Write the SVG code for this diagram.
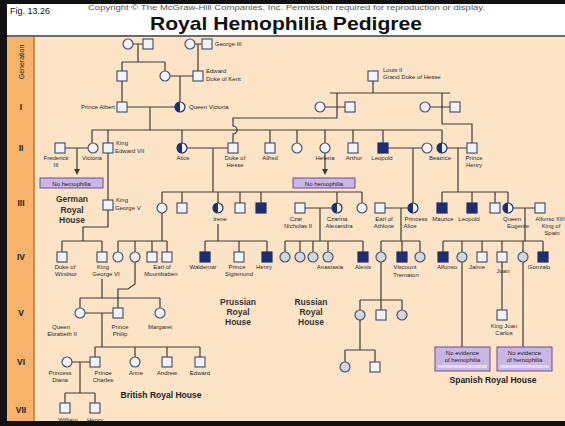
<svg xmlns="http://www.w3.org/2000/svg" xmlns:xlink="http://www.w3.org/1999/xlink" width="565" height="426" viewBox="0 0 565 426">
<style>
.ln{fill:none;stroke:#3b3b3b;stroke-width:1.2}
.o{fill:#f3f3f6;stroke:#4a5573;stroke-width:1.2}
.q{fill:#d3d7e0;stroke:#4a5573;stroke-width:1.2}
.a{fill:#1d2f6e;stroke:#1d2f6e;stroke-width:1.2}
.t{font-family:"Liberation Sans",Arial,sans-serif;font-size:6px;fill:#2a2a2a}
.c{text-anchor:middle}
.h{font-family:"Liberation Sans",Arial,sans-serif;font-size:8.5px;font-weight:bold;fill:#333;text-anchor:middle}
.g{font-family:"Liberation Sans",Arial,sans-serif;font-size:8.5px;font-weight:bold;fill:#222;text-anchor:middle}
.box{fill:#c9b6e4;stroke:#6b4f90;stroke-width:1}
.bt{font-family:"Liberation Sans",Arial,sans-serif;font-size:6px;fill:#1a1a1a;text-anchor:middle}
</style>
<defs>
<rect id="S" class="o" x="-5" y="-5" width="10" height="10"/>
<rect id="A" class="a" x="-5" y="-5" width="10" height="10"/>
<circle id="C" class="o" r="5"/>
<circle id="Q" class="q" r="5"/>
<g id="H"><circle r="5" fill="#f3f3f6"/><path d="M0,-5 A5,5 0 0 0 0,5 Z" fill="#1d2f6e"/><circle r="5" fill="none" stroke="#1d2f6e" stroke-width="1.2"/></g>
<marker id="ar" markerWidth="6" markerHeight="6" refX="3" refY="3" orient="auto" markerUnits="userSpaceOnUse"><path d="M0,0 L6,3 L0,6 Z" fill="#3b3b3b"/></marker>
</defs>
<rect x="0" y="0" width="565" height="426" fill="#fde4c6"/>
<rect x="5" y="0" width="560" height="36" fill="#ffffff"/>
<rect x="5" y="35" width="560" height="2" fill="#6a6a6a"/>
<rect x="7" y="37" width="27" height="389" fill="#f6b36c"/>
<rect x="33" y="37" width="2" height="389" fill="#c98a4c"/>
<rect x="0" y="0" width="565" height="4" fill="#111"/>
<rect x="0" y="0" width="7" height="426" fill="#111"/>
<text x="10" y="14" font-family="Liberation Sans,Arial,sans-serif" font-size="9" fill="#111">Fig. 13.26</text>
<text x="88" y="10" font-family="Liberation Sans,Arial,sans-serif" font-size="6.5" fill="#555" textLength="397" lengthAdjust="spacingAndGlyphs">Copyright © The McGraw-Hill Companies, Inc. Permission required for reproduction or display.</text>
<text x="150" y="30" font-family="Liberation Sans,Arial,sans-serif" font-size="19" font-weight="bold" fill="#111" textLength="272" lengthAdjust="spacingAndGlyphs">Royal Hemophilia Pedigree</text>
<g id="generations" font-family="Liberation Sans,Arial,sans-serif" font-weight="bold" fill="#222" text-anchor="middle">
<text transform="translate(24,62) rotate(-90)" font-size="7" font-weight="normal">Generation</text>
<text x="21" y="110" font-size="8.5">I</text>
<text x="21" y="151" font-size="8.5">II</text>
<text x="21" y="206" font-size="8.5">III</text>
<text x="21" y="260" font-size="8.5">IV</text>
<text x="21" y="316" font-size="8.5">V</text>
<text x="21" y="365" font-size="8.5">VI</text>
<text x="21" y="413" font-size="8.5">VII</text>
</g>
<g id="connectors" class="ln">
<path d="M133,44 H143 M138,44 V62 M122,62 H165 M122,62 V71 M165,62 V71"/>
<path d="M195,44 H202 M198,44 V71"/>
<path d="M170,76 H193 M180,76 V102 M122,81 V102"/>
<path d="M127,107 H175 M150,107 V130"/>
<path d="M92,130 H442 M92,130 V143 M108,130 V143 M182,130 V143 M270,130 V143 M297,130 V143 M325,130 V143 M353,130 V143 M383,130 V143 M442,130 V143"/>
<path d="M373,81 V93 M330,93 H450 M325,107 H345 M430,107 H450"/>
<path d="M337,93 V118 H233 V126 A4,4 0 0 1 233,134 V143"/>
<path d="M442,93 V124 H472 V143"/>
<path d="M65,148 H88 M77,148 V172" marker-end="url(#ar)"/>
<path d="M325,153 V172" marker-end="url(#ar)"/>
<path d="M108,153 V200"/>
<path d="M187,148 H228 M213,148 V192 M162,192 H362 M162,192 V203 M182,192 V203 M218,192 V203 M240,192 V203 M261,192 V203 M337,192 V203 M362,192 V203"/>
<path d="M388,148 H422 M413,148 V203"/>
<path d="M447,148 H467 M458,148 V192 M442,192 H508 M442,192 V203 M472,192 V203 M495,192 V203 M508,192 V203"/>
<path d="M108,210 V227 H83 V241 M62,241 H102 M62,241 V252 M102,241 V252"/>
<path d="M162,213 V241 M118,241 H167 M118,241 V252 M135,241 V252 M152,241 V252 M167,241 V252"/>
<path d="M218,224 V241 M205,241 H267 M205,241 V252 M239,241 V252 M267,241 V252"/>
<path d="M305,208 H332 M320,208 V241 M285,241 H363 M285,241 V252 M300,241 V252 M313,241 V252 M328,241 V252 M363,241 V252"/>
<path d="M385,208 H408 M401,208 V241 M381,241 H420 M381,241 V252 M402,241 V252 M420,241 V252"/>
<path d="M513,208 H535 M525,208 V241 M443,241 H543 M443,241 V252 M462,241 V252 M482,241 V252 M502,241 V252 M523,241 V252 M543,241 V252"/>
<path d="M462,262 V347 M523,262 V347 M502,262 V310"/>
<path d="M381,262 V300 M360,300 H402 M360,300 V310 M381,300 V310 M402,300 V310"/>
<path d="M360,320 V350 M345,350 H375 M345,350 V362 M375,350 V362"/>
<path d="M102,279 V298 M80,298 H160 M80,298 V308 M160,298 V308"/>
<path d="M135,262 V284 L128,289 H118 V308"/>
<path d="M85,313 H113 M102,313 V347 M95,347 H200 M95,347 V357 M135,347 V357 M167,347 V357 M200,347 V357"/>
<path d="M72,362 H90 M80,362 V393 M65,393 H95 M65,393 V403 M95,393 V403"/>
</g>
<g id="boxes">
<g id="box-prussia"><rect class="box" x="40" y="178" width="63" height="10"/><text class="bt" x="71.5" y="185.5">No hemophilia</text></g>
<g id="box-helena"><rect class="box" x="293" y="178" width="62" height="10"/><text class="bt" x="324" y="185.5">No hemophilia</text></g>
<g id="box-beatriz"><rect class="box" x="435" y="347" width="55" height="24"/><rect x="438" y="365" width="49" height="3" fill="#e4d8f2"/><text class="bt" x="462.5" y="355">No evidence</text><text class="bt" x="462.5" y="362">of hemophilia</text></g>
<g id="box-cristina"><rect class="box" x="497" y="347" width="55" height="24"/><rect x="500" y="365" width="49" height="3" fill="#e4d8f2"/><text class="bt" x="524.5" y="355">No evidence</text><text class="bt" x="524.5" y="362">of hemophilia</text></g>
</g>
<g id="houses">
<text class="h" x="72" y="202">German</text><text class="h" x="72" y="213">Royal</text><text class="h" x="72" y="223">House</text>
<text class="h" x="238" y="305">Prussian</text><text class="h" x="238" y="315">Royal</text><text class="h" x="238" y="325">House</text>
<text class="h" x="311" y="305">Russian</text><text class="h" x="311" y="315">Royal</text><text class="h" x="311" y="325">House</text>
<text class="g" x="161" y="398">British Royal House</text>
<text class="g" x="493" y="383">Spanish Royal House</text>
</g>
<g id="n-g1a"><use href="#C" x="128" y="44"/></g>
<g id="n-g1b"><use href="#S" x="148" y="44"/></g>
<g id="n-charlotte"><use href="#C" x="190" y="44"/></g>
<g id="n-george3"><use href="#S" x="207" y="44"/><text class="t" x="215" y="46">George III</text></g>
<g id="n-ernest"><use href="#S" x="122" y="76"/></g>
<g id="n-victoria-sc"><use href="#C" x="165" y="76"/></g>
<g id="n-edward-kent"><use href="#S" x="198" y="76"/><text class="t" x="206" y="73">Edward</text><text class="t" x="206" y="81">Duke of Kent</text></g>
<g id="n-louis2"><use href="#S" x="373" y="76"/><text class="t" x="383" y="72">Louis II</text><text class="t" x="383" y="79">Grand Duke of Hesse</text></g>
<g id="n-albert"><use href="#S" x="122" y="107"/><text class="t" x="115" y="109" text-anchor="end">Prince Albert</text></g>
<g id="n-queen-victoria"><use href="#H" x="180" y="107"/><text class="t" x="189" y="109">Queen Victoria</text></g>
<g id="n-l1"><use href="#C" x="320" y="107"/></g>
<g id="n-l2"><use href="#S" x="350" y="107"/></g>
<g id="n-l3"><use href="#C" x="425" y="107"/></g>
<g id="n-l4"><use href="#S" x="455" y="107"/></g>
<g id="n-frederick3"><use href="#S" x="60" y="148"/><text class="t c" x="56" y="160">Frederick</text><text class="t c" x="56" y="167">III</text></g>
<g id="n-victoria"><use href="#C" x="93" y="148"/><text class="t c" x="92" y="160">Victoria</text></g>
<g id="n-edward7"><use href="#S" x="108" y="148"/><text class="t" x="116" y="145">King</text><text class="t" x="115" y="153">Edward VII</text></g>
<g id="n-alice"><use href="#H" x="182" y="148"/><text class="t c" x="183" y="160">Alice</text></g>
<g id="n-duke-hesse"><use href="#S" x="233" y="148"/><text class="t c" x="235" y="160">Duke of</text><text class="t c" x="235" y="167">Hesse</text></g>
<g id="n-alfred"><use href="#S" x="270" y="148"/><text class="t c" x="270" y="160">Alfred</text></g>
<g id="n-louise"><use href="#C" x="297" y="148"/></g>
<g id="n-helena"><use href="#C" x="325" y="148"/><text class="t c" x="325" y="160">Helena</text></g>
<g id="n-arthur"><use href="#S" x="353" y="148"/><text class="t c" x="354" y="160">Arthur</text></g>
<g id="n-leopold"><use href="#A" x="383" y="148"/><text class="t c" x="382" y="160">Leopold</text></g>
<g id="n-helena-w"><use href="#C" x="427" y="148"/></g>
<g id="n-beatrice"><use href="#H" x="442" y="148"/><text class="t c" x="440" y="160">Beatrice</text></g>
<g id="n-henry-b"><use href="#S" x="472" y="148"/><text class="t c" x="474" y="160">Prince</text><text class="t c" x="474" y="167">Henry</text></g>
<g id="n-george5"><use href="#S" x="108" y="205"/><text class="t" x="116" y="202">King</text><text class="t" x="115" y="210">George V</text></g>
<g id="n-vic-hesse"><use href="#C" x="162" y="208"/></g>
<g id="n-ernst"><use href="#S" x="182" y="208"/></g>
<g id="n-irene"><use href="#H" x="218" y="208"/><text class="t c" x="220" y="221">Irene</text></g>
<g id="n-hesse-s"><use href="#S" x="240" y="208"/></g>
<g id="n-friedrich"><use href="#A" x="261" y="208"/></g>
<g id="n-nicholas"><use href="#S" x="300" y="208"/><text class="t c" x="296" y="221">Czar</text><text class="t c" x="298" y="228">Nicholas II</text></g>
<g id="n-alexandra"><use href="#H" x="337" y="208"/><text class="t c" x="337" y="221">Czarina</text><text class="t c" x="339" y="228">Alexandra</text></g>
<g id="n-marie"><use href="#C" x="362" y="208"/></g>
<g id="n-athlone"><use href="#S" x="380" y="208"/><text class="t c" x="384" y="221">Earl of</text><text class="t c" x="384" y="228">Athlone</text></g>
<g id="n-princess-alice"><use href="#H" x="413" y="208"/><text class="t c" x="416" y="221">Princess</text><text class="t c" x="410" y="228">Alice</text></g>
<g id="n-maurice"><use href="#A" x="442" y="208"/><text class="t c" x="443" y="221">Maurice</text></g>
<g id="n-leopold-b"><use href="#A" x="472" y="208"/><text class="t c" x="469" y="221">Leopold</text></g>
<g id="n-alexander-b"><use href="#S" x="495" y="208"/></g>
<g id="n-eugenie"><use href="#H" x="508" y="208"/><text class="t c" x="512" y="221">Queen</text><text class="t c" x="518" y="228">Eugenie</text></g>
<g id="n-alfonso13"><use href="#S" x="540" y="208"/><text class="t c" x="550" y="221" textLength="29" lengthAdjust="spacingAndGlyphs">Alfonso XIII</text><text class="t c" x="551" y="228">King of</text><text class="t c" x="552" y="235">Spain</text></g>
<g id="n-windsor"><use href="#S" x="62" y="257"/><text class="t c" x="65" y="269">Duke of</text><text class="t c" x="66" y="276">Windsor</text></g>
<g id="n-george6"><use href="#S" x="102" y="257"/><text class="t c" x="103" y="269">King</text><text class="t c" x="106" y="276">George VI</text></g>
<g id="n-m1"><use href="#C" x="118" y="257"/></g>
<g id="n-m2"><use href="#C" x="135" y="257"/></g>
<g id="n-m3"><use href="#S" x="152" y="257"/></g>
<g id="n-mountbatten"><use href="#S" x="167" y="257"/><text class="t c" x="162" y="269">Earl of</text><text class="t c" x="161" y="276">Mountbatten</text></g>
<g id="n-waldemar"><use href="#A" x="205" y="257"/><text class="t c" x="203" y="269">Waldemar</text></g>
<g id="n-sigismund"><use href="#S" x="239" y="257"/><text class="t c" x="237" y="269">Prince</text><text class="t c" x="239" y="276">Sigismund</text></g>
<g id="n-henry-p"><use href="#A" x="267" y="257"/><text class="t c" x="264" y="269">Henry</text></g>
<g id="n-olga"><use href="#Q" x="285" y="257"/></g>
<g id="n-tatiana"><use href="#Q" x="300" y="257"/></g>
<g id="n-maria"><use href="#Q" x="313" y="257"/></g>
<g id="n-anastasia"><use href="#Q" x="328" y="257"/><text class="t c" x="330" y="269">Anastasia</text></g>
<g id="n-alexis"><use href="#A" x="363" y="257"/><text class="t c" x="363" y="269">Alexis</text></g>
<g id="n-may"><use href="#Q" x="381" y="257"/></g>
<g id="n-trematon"><use href="#A" x="402" y="257"/><text class="t c" x="405" y="269">Viscount</text><text class="t c" x="406" y="277">Trematon</text></g>
<g id="n-maurice-a"><use href="#Q" x="420" y="257"/></g>
<g id="n-alfonso"><use href="#A" x="443" y="257"/><text class="t c" x="447" y="269">Alfonso</text></g>
<g id="n-beatriz"><use href="#Q" x="462" y="257"/></g>
<g id="n-jaime"><use href="#S" x="482" y="257"/><text class="t c" x="477" y="269">Jaime</text></g>
<g id="n-juan"><use href="#S" x="502" y="257"/><text class="t c" x="503" y="273">Juan</text></g>
<g id="n-cristina"><use href="#Q" x="523" y="257"/></g>
<g id="n-gonzalo"><use href="#A" x="543" y="257"/><text class="t c" x="539" y="269">Gonzalo</text></g>
<g id="n-juan-carlos"><use href="#S" x="502" y="315"/><text class="t c" x="504" y="328">King Juan</text><text class="t c" x="504" y="335">Carlos</text></g>
<g id="n-r1"><use href="#Q" x="360" y="315"/></g>
<g id="n-r2"><use href="#S" x="381" y="315"/></g>
<g id="n-r3"><use href="#Q" x="402" y="315"/></g>
<g id="n-r4"><use href="#Q" x="345" y="367"/></g>
<g id="n-r5"><use href="#S" x="375" y="367"/></g>
<g id="n-elizabeth2"><use href="#C" x="80" y="313"/><text class="t c" x="61" y="329">Queen</text><text class="t c" x="62" y="336">Elizabeth II</text></g>
<g id="n-philip"><use href="#S" x="118" y="313"/><text class="t c" x="120" y="329">Prince</text><text class="t c" x="120" y="336">Philip</text></g>
<g id="n-margaret"><use href="#C" x="160" y="313"/><text class="t c" x="160" y="329">Margaret</text></g>
<g id="n-diana"><use href="#C" x="67" y="362"/><text class="t c" x="60" y="375">Princess</text><text class="t c" x="60" y="382">Diana</text></g>
<g id="n-charles"><use href="#S" x="95" y="362"/><text class="t c" x="103" y="375">Prince</text><text class="t c" x="103" y="382">Charles</text></g>
<g id="n-anne"><use href="#C" x="135" y="362"/><text class="t c" x="136" y="375">Anne</text></g>
<g id="n-andrew"><use href="#S" x="167" y="362"/><text class="t c" x="167" y="375">Andrew</text></g>
<g id="n-edward"><use href="#S" x="200" y="362"/><text class="t c" x="200" y="375">Edward</text></g>
<g id="n-william"><use href="#S" x="65" y="408"/><text class="t c" x="68" y="422">William</text></g>
<g id="n-harry"><use href="#S" x="95" y="408"/><text class="t c" x="95" y="422">Henry</text></g>
<rect x="0" y="421" width="565" height="5" fill="#111"/>
</svg>
